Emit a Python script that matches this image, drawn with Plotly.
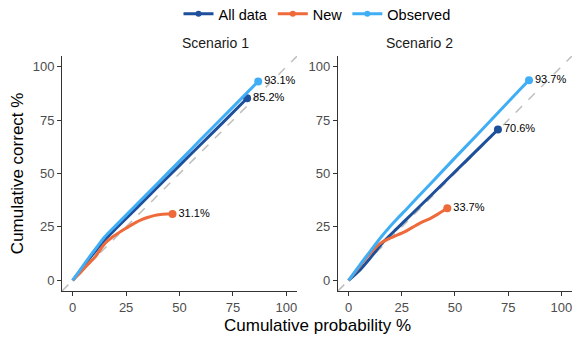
import plotly.graph_objects as go

# series names and colours
series = ["All data", "New", "Observed"]
colours = {"All data": "#1d4f9b", "New": "#ef6a3a", "Observed": "#40aef5"}

# Scenario 1
s1_all_x = [0, 2, 5, 8, 12, 15, 20, 30, 40, 50, 60, 70, 81.6]
s1_all_y = [0, 2.5, 6.4, 10.4, 15.3, 19.0, 24.0, 33.9, 43.9, 53.8, 63.7, 73.6, 85.2]
s1_new_x = [0, 2, 4.6, 8, 10.8, 13, 15.4, 18, 20, 23, 26, 29, 32, 35, 38, 41, 44, 46.7]
s1_new_y = [0, 2.0, 4.7, 8.4, 11.3, 14.5, 17.6, 19.8, 21.2, 23.2, 25.0, 26.8, 28.3, 29.4, 30.3, 30.8, 31.0, 31.1]
s1_obs_x = [0, 2, 5, 8, 12, 15, 20, 30, 40, 50, 60, 70, 80, 86.8]
s1_obs_y = [0, 2.8, 7.0, 11.2, 16.5, 20.4, 25.5, 35.6, 45.7, 55.8, 66.0, 76.1, 86.2, 93.1]

# Scenario 2
s2_all_x = [0, 5.5, 10, 16.4, 22.7, 30, 40, 50, 60, 70.2]
s2_all_y = [0, 5.0, 10.2, 18.0, 24.2, 31.3, 41.0, 50.8, 60.6, 70.6]
s2_new_x = [0, 4, 8.6, 14.8, 18.7, 22.7, 26.5, 30.4, 34, 38.3, 42, 46.4]
s2_new_y = [0, 5.0, 10.9, 17.2, 19.4, 21.1, 22.8, 25.0, 27.0, 28.9, 31.0, 33.7]
s2_obs_x = [0, 2, 5, 8, 11.7, 15.6, 19.5, 23.4, 27.3, 32, 38.3, 50, 60, 70, 80, 84.8]
s2_obs_y = [0, 2.7, 6.8, 10.8, 15.6, 20.6, 25.2, 29.4, 33.4, 38.4, 45.0, 57.3, 67.7, 78.2, 88.7, 93.7]

ticks = [0, 25, 50, 75, 100]
axis_range = [-5, 105]

panels = [
    ("x", "y", {"All data": (s1_all_x, s1_all_y), "New": (s1_new_x, s1_new_y), "Observed": (s1_obs_x, s1_obs_y)}),
    ("x2", "y2", {"All data": (s2_all_x, s2_all_y), "New": (s2_new_x, s2_new_y), "Observed": (s2_obs_x, s2_obs_y)}),
]

font = "Liberation Sans, Arial, sans-serif"

fig = go.Figure()

for xa, ya, data in panels:
    # y = x reference line
    fig.add_trace(go.Scatter(x = axis_range, y = axis_range, xaxis = xa, yaxis = ya, mode = "lines",
                             line = dict(color = "#bebebe", width = 1.5, dash = "dash"),
                             showlegend = False, hoverinfo = "skip"))
    for name in series:
        xs, ys = data[name]
        fig.add_trace(go.Scatter(x = xs, y = ys, xaxis = xa, yaxis = ya, mode = "lines",
                                 line = dict(color = colours[name], width = 3, shape = "spline", smoothing = 0.6),
                                 showlegend = False))
        fig.add_trace(go.Scatter(x = [xs[-1]], y = [ys[-1]], xaxis = xa, yaxis = ya, mode = "markers+text",
                                 marker = dict(color = colours[name], size = 8),
                                 text = [f"{ys[-1]:.1f}%"], textposition = "middle right",
                                 textfont = dict(size = 11, color = "black", family = font),
                                 showlegend = False))

# legend-only entries
for name in series:
    fig.add_trace(go.Scatter(x = [None], y = [None], mode = "lines+markers", name = name,
                             line = dict(color = colours[name], width = 3),
                             marker = dict(color = colours[name], size = 6)))

axis_style = dict(range = axis_range, tickvals = ticks, showgrid = False, zeroline = False,
                  showline = True, linecolor = "#333333", linewidth = 1,
                  ticks = "outside", ticklen = 4, tickcolor = "#333333",
                  tickfont = dict(size = 13, color = "#4d4d4d", family = font))

# the page body adds 8px on the left and top, so the margins make up for it
fig.update_layout(
    width = 581, height = 349,
    margin = dict(l = 54, r = 17, t = 48, b = 66),
    plot_bgcolor = "white", paper_bgcolor = "white",
    font = dict(family = font),
    xaxis = dict(domain = [0, 0.461], anchor = "y", **axis_style),
    yaxis = dict(anchor = "x", **axis_style),
    xaxis2 = dict(domain = [0.541, 1], anchor = "y2", **axis_style),
    yaxis2 = dict(anchor = "x2", **axis_style),
    legend = dict(orientation = "h", x = 0.5, xanchor = "center", yref = "container", y = 0.983, yanchor = "middle",
                  font = dict(size = 14.5, color = "black", family = font)),
    annotations = [
        dict(text = "Scenario 1", x = 0.2305, y = 1.055, xref = "paper", yref = "paper", showarrow = False,
             yanchor = "middle", font = dict(size = 14, color = "#1a1a1a")),
        dict(text = "Scenario 2", x = 0.7705, y = 1.055, xref = "paper", yref = "paper", showarrow = False,
             yanchor = "middle", font = dict(size = 14, color = "#1a1a1a")),
        dict(text = "Cumulative probability %", x = 0.5, y = -0.145, xref = "paper", yref = "paper",
             showarrow = False, yanchor = "middle", font = dict(size = 17, color = "black")),
        dict(text = "Cumulative correct %", x = -0.088, y = 0.502, xref = "paper", yref = "paper",
             showarrow = False, textangle = -90, xanchor = "center", yanchor = "middle",
             font = dict(size = 17, color = "black")),
    ],
)

fig.write_html("out.html")
